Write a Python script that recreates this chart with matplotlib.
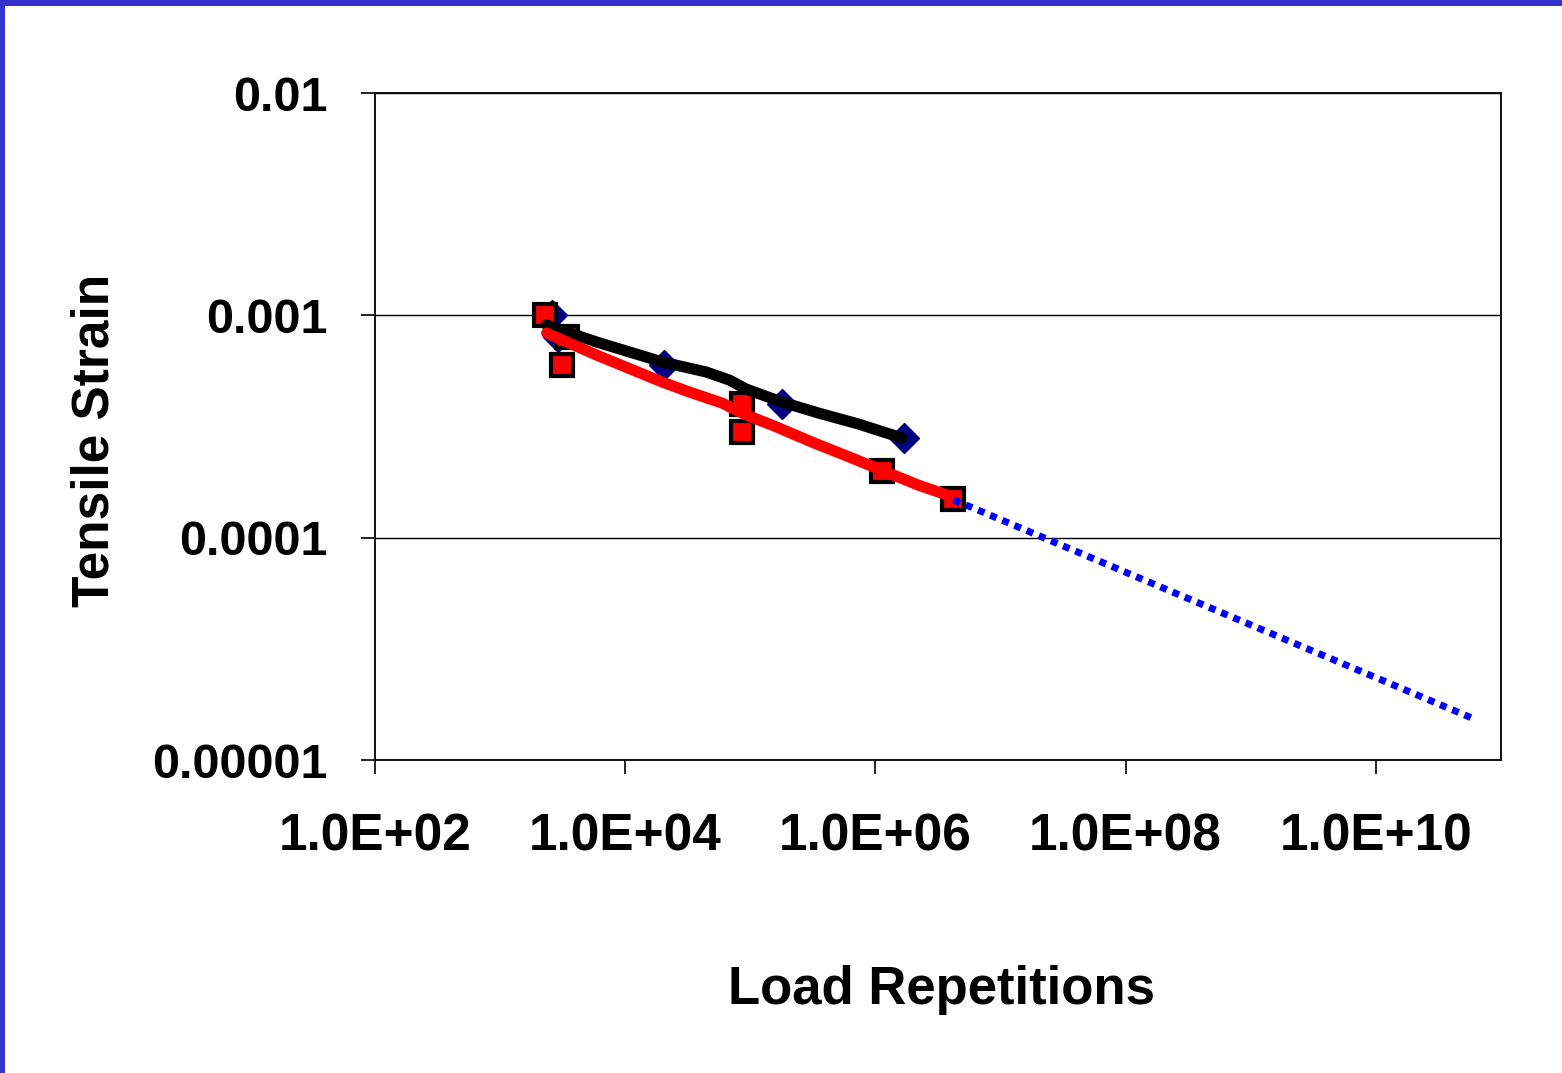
import matplotlib.pyplot as plt
from matplotlib.patches import Rectangle

plt.rcParams['font.family'] = ['Liberation Sans', 'DejaVu Sans']

diamond_x = [2600, 2880, 20500, 180000, 1.68e6]
diamond_y = [0.001, 0.0008, 0.0006, 0.0004, 0.00028]

square_x = [2270, 3400, 3100, 86000, 86000, 1.12e6, 4.2e6]
square_y = [0.001, 0.0008, 0.0006, 0.0004, 0.0003, 0.0002, 0.00015]

# fitted curves as drawn in the original
black_x = [2355, 5890, 19800, 44400, 67800, 92600, 179500, 354000, 738000, 1.625e6]
black_y = [0.000905, 0.000759, 0.000617, 0.000556, 0.000512, 0.000466,
           0.000407, 0.000363, 0.000324, 0.000281]

red_x = [2355, 5890, 19800, 32500, 59600, 92600, 149000, 311000, 649000,
         1.125e6, 2.22e6, 4.22e6]
red_y = [0.000832, 0.000663, 0.000501, 0.000452, 0.000403, 0.000356,
         0.000321, 0.000269, 0.000228, 0.000201, 0.000172, 0.000152]

# extrapolation
extrap_x = [4.22e6, 5.92e10]
extrap_y = [0.000148, 0.0000154]

x_ticks = [1e2, 1e4, 1e6, 1e8, 1e10]
x_labels = ["1.0E+02", "1.0E+04", "1.0E+06", "1.0E+08", "1.0E+10"]
y_ticks = [1e-5, 1e-4, 1e-3, 1e-2]
y_labels = ["0.00001", "0.0001", "0.001", "0.01"]

fig = plt.figure(figsize=(15.62, 10.73), dpi=100)
ax = fig.add_axes([375 / 1562, 1 - 760 / 1073, 1126 / 1562, 667 / 1073])

ax.plot(diamond_x, diamond_y, linestyle="none", marker="D", markersize=15,
        color="#000080", zorder=3)
ax.plot(square_x, square_y, linestyle="none", marker="s", markersize=16,
        markerfacecolor="#ff0000", markeredgecolor="black",
        markeredgewidth=3, zorder=4)
ax.plot(black_x, black_y, color="black", linewidth=8, solid_capstyle="round",
        zorder=5)
ax.plot(red_x, red_y, color="#ff0000", linewidth=8, solid_capstyle="round",
        zorder=5)
ax.plot(extrap_x, extrap_y, color="#0000ff", linewidth=5,
        linestyle=(0, (1, 0.9)), dash_capstyle="butt", zorder=6)

ax.set_xscale("log")
ax.set_yscale("log")
ax.set_xlim(1e2, 1e11)
ax.set_ylim(1e-5, 1e-2)
ax.set_xticks(x_ticks)
ax.set_xticklabels(x_labels)
ax.set_yticks(y_ticks)
ax.set_yticklabels(y_labels)
ax.minorticks_off()
ax.tick_params(axis="x", which="major", direction="out", length=10, width=1.2,
               labelsize=37, pad=28)
ax.tick_params(axis="y", which="major", direction="out", length=10, width=1.2,
               labelsize=35, pad=24)
for lbl in ax.get_xticklabels() + ax.get_yticklabels():
    lbl.set_fontweight("bold")

ax.yaxis.grid(True, color="black", linewidth=1)
for sp in ax.spines.values():
    sp.set_color("black")
    sp.set_linewidth(1.3)

fig.text(942 / 1562, 1 - 990 / 1073, "Load Repetitions", fontsize=38,
         fontweight="bold", ha="center", va="center")
fig.text(95 / 1562, 1 - 440 / 1073, "Tensile Strain", fontsize=37,
         fontweight="bold", ha="center", va="center", rotation=90)

# slide frame: blue bars on left and top
fig.patches.append(Rectangle((0, 0), 5 / 1562, 1, transform=fig.transFigure,
                             facecolor="#3333cc", edgecolor="none"))
fig.patches.append(Rectangle((0, 1 - 6 / 1073), 1, 6 / 1073,
                             transform=fig.transFigure,
                             facecolor="#3333cc", edgecolor="none"))

fig.savefig("out.png", dpi=100)
